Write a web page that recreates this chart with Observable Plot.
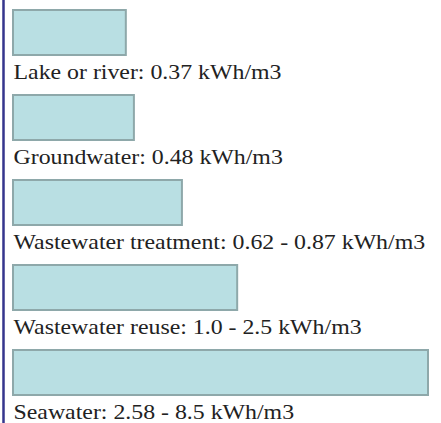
<!DOCTYPE html>
<html>
<head>
<meta charset="utf-8">
<script src="https://cdn.jsdelivr.net/npm/d3@7"></script>
<script src="https://cdn.jsdelivr.net/npm/@observablehq/plot@0.6"></script>
<style>
  html, body { margin: 0; padding: 0; background: #fff; }
  #chart svg { display: block; }
</style>
</head>
<body>
<div id="chart"></div>
<script>
// Data
const categories = ["Lake or river", "Groundwater", "Wastewater treatment", "Wastewater reuse", "Seawater"];
const ranges = ["0.37", "0.48", "0.62 - 0.87", "1.0 - 2.5", "2.58 - 8.5"];
const unit = "kWh/m3";
// relative bar length (longest bar = 100), as drawn
const barLength = [28.9, 30.8, 42.1, 55.1, 100];

const data = categories.map((c, i) => ({
  cat: c,
  len: barLength[i],
  label: `${c}: ${ranges[i]} ${unit}`
}));

const plot = Plot.plot({
  width: 441,
  height: 423,
  marginTop: 0,
  marginBottom: 0,
  marginLeft: 0,
  marginRight: 0,
  style: {background: "#fff"},
  x: {domain: [0, 100], range: [3, 428], axis: null},
  y: {type: "band", domain: categories, range: [0, 425], padding: 0, axis: null},
  marks: [
    Plot.barX(data, {
      x: "len", y: "cat",
      insetLeft: 10, insetTop: 10, insetBottom: 30,
      fill: "#b9dfe3", stroke: "#8ea8aa", strokeWidth: 2
    }),
    Plot.text(data, {
      x: 0, y: "cat", text: "label",
      textAnchor: "start", lineAnchor: "bottom",
      dx: 10, dy: 36,
      fontSize: 21, fontFamily: "Liberation Serif, Times New Roman, serif",
      fill: "#222222"
    }),
    Plot.ruleX([0], {stroke: "#35358d", strokeWidth: 2.5})
  ]
});

// Horizontal stretch of the label glyphs to match the wide serif lettering
const sx = 1.135;
plot.querySelectorAll('g[aria-label="text"] text').forEach(t => {
  const tr = t.getAttribute("transform");
  if (tr) {
    t.setAttribute("transform", tr + ` scale(${sx},1)`);
  } else {
    const x = +t.getAttribute("x") || 0, y = +t.getAttribute("y") || 0;
    t.removeAttribute("x"); t.removeAttribute("y");
    t.setAttribute("transform", `translate(${x},${y}) scale(${sx},1)`);
  }
});

document.getElementById("chart").appendChild(plot);
</script>
</body>
</html>
